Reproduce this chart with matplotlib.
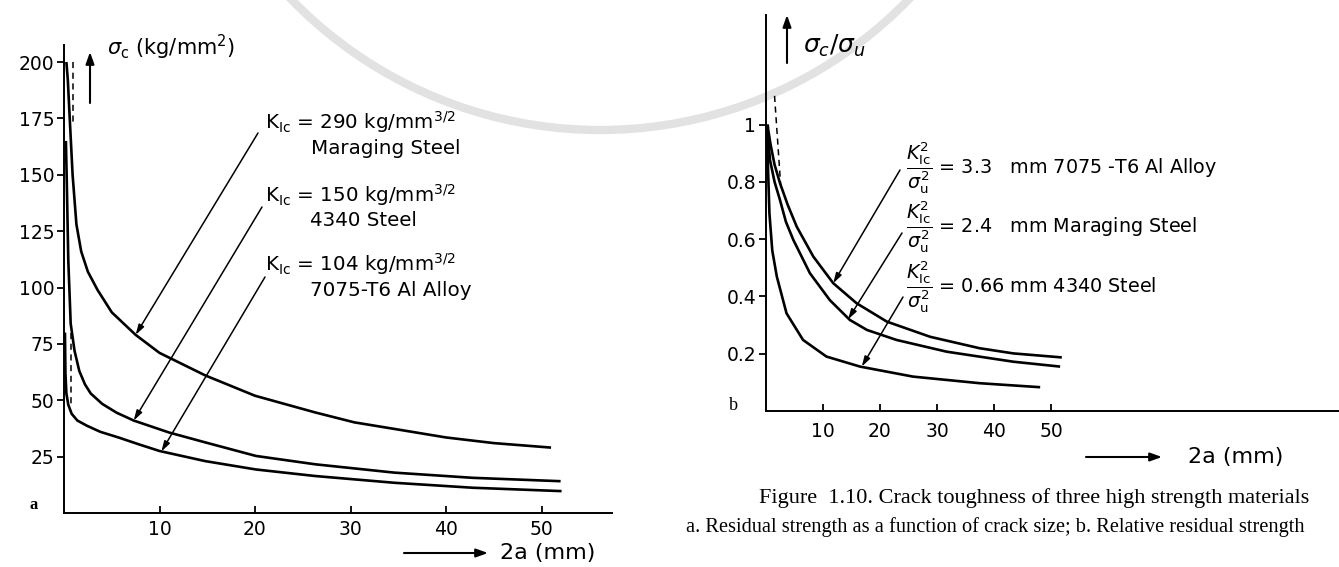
"""Crack toughness of three high strength materials (two-panel figure)."""

import matplotlib.pyplot as plt
from matplotlib.patches import Arc
from matplotlib.transforms import IdentityTransform

W, H = 1339, 567

# panel a: residual strength sigma_c (kg/mm^2) vs crack size 2a (mm)
mar_x = [0.25, 0.4, 0.6, 0.9, 1.3, 1.8, 2.5, 3.5, 5.0, 7.5, 10.0, 14.8, 20.0,
         26.3, 30.4, 35.0, 40.0, 45.0, 51.0]
mar_y = [200, 192, 175, 150, 128, 116, 107, 99, 89, 79, 71, 61, 52,
         44.6, 40.2, 37, 33.5, 31, 29]

st_x = [0.2, 0.3, 0.45, 0.7, 1.1, 1.6, 2.2, 2.8, 4.0, 5.5, 7.3, 11.0, 14.8,
        20.1, 26.3, 34.6, 42.8, 52.0]
st_y = [165, 145, 112, 84, 72, 63, 57, 53, 48.4, 44.5, 41, 35.7, 31.3,
        25.3, 21.6, 17.9, 15.6, 14.1]

al_x = [0.1, 0.15, 0.25, 0.45, 0.8, 1.4, 2.4, 3.8, 5.7, 7.8, 10.0, 14.8,
        20.1, 26.3, 34.6, 42.8, 52.1]
al_y = [80, 62, 53, 48, 44, 41, 38.7, 36, 33.5, 30.5, 27.5, 23,
        19.3, 16.4, 13.4, 11.2, 9.7]

dash_a1_x, dash_a1_y = [0.9, 0.9], [200, 172]
dash_a2_x, dash_a2_y = [0.7, 0.7], [80, 48]

a_xticks = [10, 20, 30, 40, 50]
a_yticks = [25, 50, 75, 100, 125, 150, 175, 200]

# panel b: relative residual strength sigma_c/sigma_u vs 2a (mm)
alb_x = [0.3, 0.4, 0.8, 1.5, 2.46, 3.8, 5.4, 8.3, 11.8, 15.9, 21.2, 28.8,
         37.5, 43.4, 51.9]
alb_y = [1.0, 0.98, 0.93, 0.86, 0.795, 0.72, 0.643, 0.539, 0.446, 0.376,
         0.312, 0.259, 0.219, 0.201, 0.187]

marb_x = [0.3, 0.7, 1.5, 2.46, 3.5, 4.8, 7.7, 11.2, 14.7, 17.7, 22.9, 31.7,
          43.4, 51.6]
marb_y = [0.97, 0.876, 0.80, 0.736, 0.66, 0.597, 0.481, 0.387, 0.318, 0.283,
          0.248, 0.207, 0.172, 0.155]

stb_x = [0.2, 0.35, 0.6, 1.1, 1.9, 3.6, 6.5, 10.6, 16.5, 25.8, 37.5, 48.1]
stb_y = [1.0, 0.85, 0.69, 0.56, 0.469, 0.341, 0.248, 0.19, 0.155, 0.12,
         0.097, 0.083]

dash_b_x, dash_b_y = [1.5, 2.6], [1.1, 0.78]

b_xticks = [10, 20, 30, 40, 50]
b_yticks = [0.2, 0.4, 0.6, 0.8, 1.0]
b_ylabels = ["0.2", "0.4", "0.6", "0.8", "1"]


def fx(x):
    return x / W


def fy(y):
    return 1 - y / H


def style(ax, xpad):
    for s in ["top", "right"]:
        ax.spines[s].set_visible(False)
    for s in ["left", "bottom"]:
        ax.spines[s].set_linewidth(1.4)
    ax.tick_params(axis="y", direction="out", length=5, width=1.3,
                   labelsize=13.5, pad=2)
    ax.tick_params(axis="x", direction="in", length=5, width=1.3,
                   labelsize=13.5, pad=xpad)
    ax.patch.set_alpha(0)


fig = plt.figure(figsize=(W / 100, H / 100), dpi=100)

# faint seal watermark behind everything
fig.add_artist(Arc((600, H + 300), 860, 860, theta1=200, theta2=340,
                   transform=IdentityTransform(), color="#e2e2e2", lw=6,
                   zorder=-5))

arrow = dict(arrowstyle="-|>,head_length=0.6,head_width=0.18", color="k",
             lw=1.1, shrinkA=0, shrinkB=0)
big_arrow = dict(arrowstyle="-|>,head_length=0.7,head_width=0.25", color="k",
                 lw=1.5, shrinkA=0, shrinkB=0)

# ---- panel a
ax_a = fig.add_axes([fx(64), fy(513), (612 - 64) / W, (513 - 45) / H])
ax_a.set_xlim(0, (612 - 64) / 9.55)
ax_a.set_ylim(0, (513 - 45) / 2.255)
style(ax_a, 5)
ax_a.set_xticks(a_xticks)
ax_a.set_yticks(a_yticks)
for xs, ys in [(mar_x, mar_y), (st_x, st_y), (al_x, al_y)]:
    ax_a.plot(xs, ys, color="k", lw=1.9, solid_capstyle="butt")
ax_a.plot(dash_a1_x, dash_a1_y, color="k", lw=1.1, ls=(0, (4, 3)))
ax_a.plot(dash_a2_x, dash_a2_y, color="k", lw=1.1, ls=(0, (4, 3)))

ax_a.annotate("", xy=(7.5, 79), xytext=(258, H - 133),
              textcoords="figure pixels", arrowprops=arrow)
ax_a.annotate("", xy=(7.3, 41), xytext=(262, H - 207),
              textcoords="figure pixels", arrowprops=arrow)
ax_a.annotate("", xy=(10.2, 27.3), xytext=(265, H - 277),
              textcoords="figure pixels", arrowprops=arrow)

fs = 14.3
fig.text(fx(265), fy(122), r"K$_{\mathrm{Ic}}$ = 290 kg/mm$^{3/2}$",
         fontsize=fs, va="center")
fig.text(fx(311), fy(148), "Maraging Steel", fontsize=fs, va="center")
fig.text(fx(265), fy(195), r"K$_{\mathrm{Ic}}$ = 150 kg/mm$^{3/2}$",
         fontsize=fs, va="center")
fig.text(fx(310), fy(220), "4340 Steel", fontsize=fs, va="center")
fig.text(fx(265), fy(264), r"K$_{\mathrm{Ic}}$ = 104 kg/mm$^{3/2}$",
         fontsize=fs, va="center")
fig.text(fx(310), fy(290), "7075-T6 Al Alloy", fontsize=fs, va="center")

ax_a.annotate("", xy=(90, H - 52), xytext=(90, H - 103),
              xycoords="figure pixels", textcoords="figure pixels",
              arrowprops=big_arrow)
fig.text(fx(107), fy(47), r"$\sigma_{\mathrm{c}}$ (kg/mm$^2$)", fontsize=15,
         va="center")
ax_a.annotate("", xy=(488, H - 553), xytext=(404, H - 553),
              xycoords="figure pixels", textcoords="figure pixels",
              arrowprops=big_arrow)
fig.text(fx(500), fy(553), "2a (mm)", fontsize=16, va="center")
fig.text(fx(30), fy(505), "a", family="Liberation Serif", fontsize=12,
         weight="bold", va="center")

# ---- panel b
ax_b = fig.add_axes([fx(766), fy(411), (W - 766) / W, (411 - 15) / H])
ax_b.set_xlim(0, (W - 766) / 5.7)
ax_b.set_ylim(0, (411 - 15) / 286.5)
style(ax_b, 8)
ax_b.set_xticks(b_xticks)
ax_b.set_yticks(b_yticks, b_ylabels)
for xs, ys in [(alb_x, alb_y), (marb_x, marb_y), (stb_x, stb_y)]:
    ax_b.plot(xs, ys, color="k", lw=1.9, solid_capstyle="butt")
ax_b.plot(dash_b_x, dash_b_y, color="k", lw=1.1, ls=(0, (4, 3)))

ax_b.annotate("", xy=(11.8, 0.446), xytext=(900, H - 170),
              textcoords="figure pixels", arrowprops=arrow)
ax_b.annotate("", xy=(14.4, 0.32), xytext=(902, H - 233),
              textcoords="figure pixels", arrowprops=arrow)
ax_b.annotate("", xy=(16.8, 0.155), xytext=(903, H - 297),
              textcoords="figure pixels", arrowprops=arrow)

frac = r"$\dfrac{K^{2}_{\mathrm{Ic}}}{\sigma^{2}_{\mathrm{u}}}$"
fig.text(fx(906), fy(168), frac + " = 3.3   mm 7075 -T6 Al Alloy",
         fontsize=13.8, va="center")
fig.text(fx(906), fy(227), frac + " = 2.4   mm Maraging Steel",
         fontsize=13.8, va="center")
fig.text(fx(906), fy(287), frac + " = 0.66 mm 4340 Steel",
         fontsize=13.8, va="center")

ax_b.annotate("", xy=(787, H - 15), xytext=(787, H - 63),
              xycoords="figure pixels", textcoords="figure pixels",
              arrowprops=big_arrow)
fig.text(fx(803), fy(46), r"$\sigma_c/\sigma_u$", fontsize=18, va="center")
ax_b.annotate("", xy=(1162, H - 457), xytext=(1086, H - 457),
              xycoords="figure pixels", textcoords="figure pixels",
              arrowprops=big_arrow)
fig.text(fx(1188), fy(457), "2a (mm)", fontsize=16, va="center")
fig.text(fx(729), fy(406), "b", family="Liberation Serif", fontsize=13,
         va="center")

# caption
fig.text(fx(1034), fy(498),
         "Figure  1.10. Crack toughness of three high strength materials",
         family="Liberation Serif", fontsize=16, ha="center", va="center")
fig.text(fx(686), fy(527),
         "a. Residual strength as a function of crack size; "
         "b. Relative residual strength",
         family="Liberation Serif", fontsize=14.7, va="center")

fig.savefig("out.png", dpi=100)
